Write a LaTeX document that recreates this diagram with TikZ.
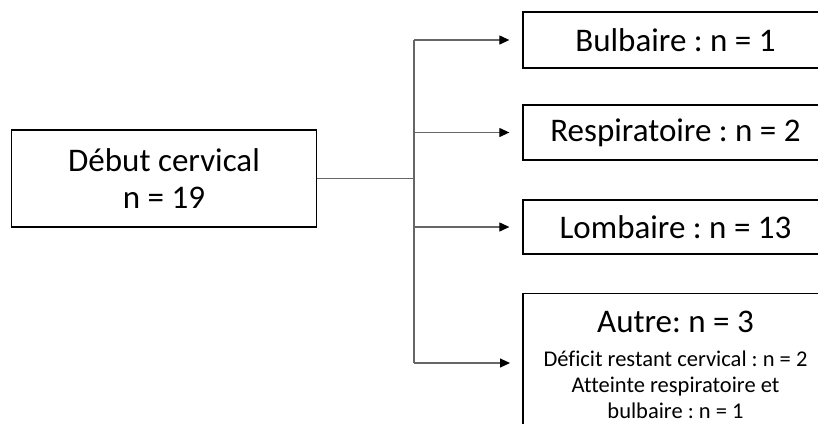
\documentclass[tikz,border=0pt]{standalone}
\usepackage{fontspec}
\setmainfont[Ligatures=NoCommon]{Carlito}
\usetikzlibrary{arrows.meta}
\frenchspacing
\begin{document}
\begin{tikzpicture}[x=1pt,y=-1pt,
  box/.style={draw=black,line width=1.3pt,minimum width=305pt,inner sep=0pt,align=center,
    font=\fontsize{33}{37}\selectfont},
  small/.style={inner sep=0pt,anchor=base,font=\fontsize{22.5}{26}\selectfont},
  title/.style={inner sep=0pt,anchor=base,font=\fontsize{33}{38}\selectfont},
  conn/.style={draw=black!60,line width=1.1pt},
  arr/.style={conn,-{Triangle[length=10pt,width=9pt,color=black]},shorten >=13pt}]
\useasboundingbox (0,0) rectangle (818,423);
\clip (0,0) rectangle (818,423);
\node[box,minimum height=97pt] (start) at (164,178.5) {Début cervical\\n = 19};
\node[box,minimum height=56pt] (b1) at (675.5,40) {Bulbaire : n = 1};
\node[box,minimum height=55pt] (b2) at (675.5,132.5) {Respiratoire : n = 2};
\node[box,minimum height=54pt] (b3) at (675.5,227) {Lombaire : n = 13};
\node[box,minimum height=140pt,anchor=north] (b4) at (675.5,293) {};
\node[title] (l0) at (675.5,332) {Autre: n = 3};
\node[small] (l1) at (675.5,366) {Déficit restant cervical : n = 2};
\node[small] (l2) at (675.5,392) {Atteinte respiratoire et};
\node[small] (l3) at (675.5,418) {bulbaire : n = 1};
\coordinate (t) at (414,178.5);
\coordinate (a4) at (523,363);
\draw[conn] (start.east) -- (t);
\draw[conn] (t |- b1.west) -- (t |- a4);
\draw[arr] (t |- b1.west) -- (b1.west);
\draw[arr] (t |- b2.west) -- (b2.west);
\draw[arr] (t |- b3.west) -- (b3.west);
\draw[arr] (t |- a4) -- (a4);
\end{tikzpicture}
\end{document}
